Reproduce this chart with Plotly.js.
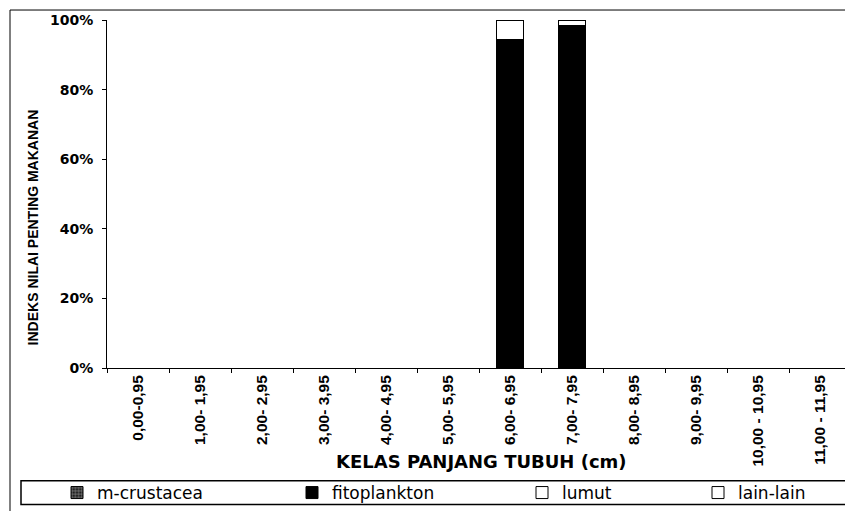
<!DOCTYPE html>
<html>
<head>
<meta charset="utf-8">
<script src="https://cdn.plot.ly/plotly-3.0.1.min.js"></script>
<style>html,body{margin:0;padding:0;background:#fff;}#chart{width:845px;height:511px;}</style>
</head>
<body>
<div id="chart"></div>
<script>
var categories = ["0,00-0,95","1,00- 1,95","2,00- 2,95","3,00- 3,95","4,00- 4,95","5,00- 5,95","6,00- 6,95","7,00- 7,95","8,00- 8,95","9,00- 9,95","10,00 - 10,95","11,00 - 11,95"];
var mCrustacea   = [0,0,0,0,0,0,0,0,0,0,0,0];
var fitoplankton = [0,0,0,0,0,0,94.3,98.5,0,0,0,0];
var lumut        = [0,0,0,0,0,0,5.7,1.5,0,0,0,0];
var lainLain     = [0,0,0,0,0,0,0,0,0,0,0,0];
var yTicks = [0,20,40,60,80,100];
var yTickLabels = ["0%","20%","40%","60%","80%","100%"];

var L = 107, W = 738, B = 369, H = 349;
function px(x){ return (x - L) / W; }
function py(y){ return (B - y) / H; }

var lineStyle = {color:'#000', width:1};
var traces = [
  {name:'m-crustacea', x:categories, y:mCrustacea, type:'bar', width:0.42, legend:'legend',
   marker:{color:'#222', line:lineStyle, pattern:{shape:'+', fgcolor:'#999', bgcolor:'#222', size:4, solidity:0.3}}},
  {name:'fitoplankton', x:categories, y:fitoplankton, type:'bar', width:0.42, legend:'legend2',
   marker:{color:'#000', line:lineStyle}},
  {name:'lumut', x:categories, y:lumut, type:'bar', width:0.42, legend:'legend3',
   marker:{color:'#fff', line:lineStyle}},
  {name:'lain-lain', x:categories, y:lainLain, type:'bar', width:0.42, legend:'legend4',
   marker:{color:'#fff', line:lineStyle}}
];

var legFont = {family:'DejaVu Sans', size:17, color:'#000'};
function leg(xSym){
  return {x:px(xSym - 22), xanchor:'left', y:py(494), yanchor:'middle', orientation:'h',
          font:legFont, bgcolor:'rgba(0,0,0,0)', borderwidth:0};
}

var layout = {
  width:845, height:511,
  margin:{l:L, r:0, t:20, b:142},
  paper_bgcolor:'#fff', plot_bgcolor:'#fff',
  barmode:'stack',
  showlegend:true,
  legend:leg(79), legend2:leg(314), legend3:leg(544), legend4:leg(720),
  xaxis:{type:'category', range:[-0.5, 11.403], showline:true, linecolor:'#000', linewidth:1,
         ticks:'outside', tickson:'boundaries', ticklen:4, tickcolor:'#000', tickangle:-90,
         tickfont:{family:'Liberation Sans', size:15.5, color:'#000', weight:'bold'},
         showgrid:false, zeroline:false, fixedrange:true},
  yaxis:{range:[0,100], tickvals:yTicks, ticktext:yTickLabels, showline:true, linecolor:'#000', linewidth:1,
         ticks:'outside', ticklen:4, tickcolor:'#000', ticklabelstandoff:6,
         tickfont:{family:'DejaVu Sans', size:14, color:'#000', weight:'bold'},
         showgrid:false, zeroline:false, fixedrange:true},
  annotations:[
    {text:'KELAS PANJANG TUBUH (cm)', xref:'paper', yref:'paper', x:px(481), y:py(463),
     xanchor:'center', yanchor:'middle', showarrow:false,
     font:{family:'DejaVu Sans', size:18, color:'#000', weight:'bold'}},
    {text:'INDEKS NILAI PENTING MAKANAN', xref:'paper', yref:'paper', x:px(33), y:py(228),
     xanchor:'center', yanchor:'middle', showarrow:false, textangle:-90,
     font:{family:'Liberation Sans', size:14, color:'#000', weight:'bold'}}
  ],
  shapes:[
    {type:'rect', xref:'paper', yref:'paper', x0:px(10), x1:px(860), y0:py(10), y1:py(530),
     line:{color:'#000', width:1}, fillcolor:'rgba(0,0,0,0)', layer:'below'},
    {type:'rect', xref:'paper', yref:'paper', x0:px(21), x1:px(860), y0:py(482), y1:py(506),
     line:{color:'#000', width:1.5}, fillcolor:'rgba(0,0,0,0)', layer:'below'}
  ]
};

Plotly.newPlot('chart', traces, layout, {displayModeBar:false, staticPlot:true});
</script>
</body>
</html>
